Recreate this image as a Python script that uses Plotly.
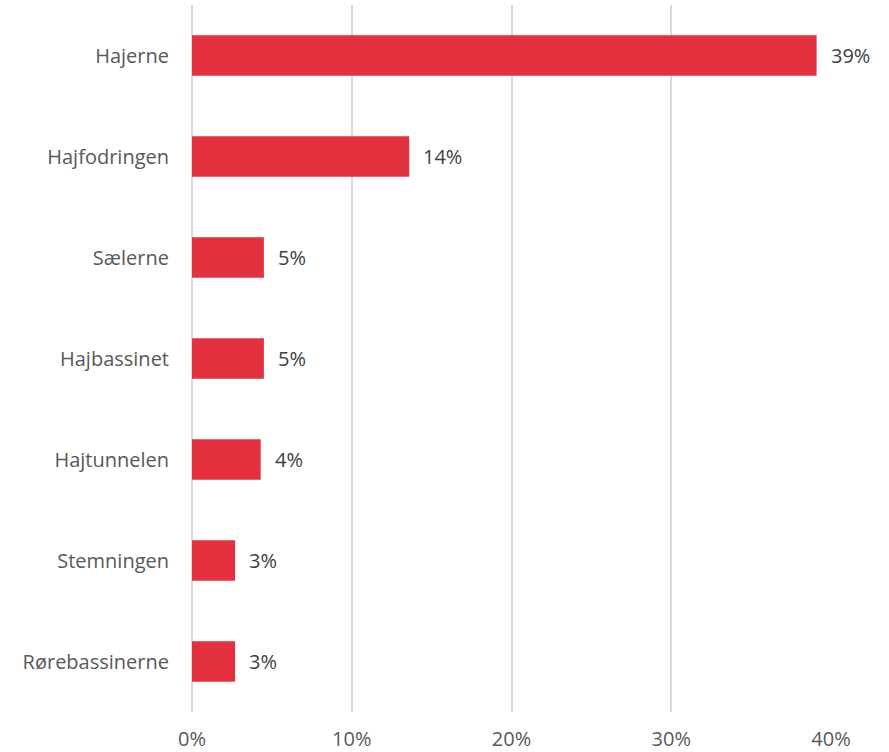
import plotly.graph_objects as go

categories = ["Hajerne", "Hajfodringen", "Sælerne", "Hajbassinet",
              "Hajtunnelen", "Stemningen", "Rørebassinerne"]
values = [0.391, 0.136, 0.045, 0.045, 0.043, 0.027, 0.027]
labels = ["39%", "14%", "5%", "5%", "4%", "3%", "3%"]

text_color = "#595959"
font_family = "Open Sans, Liberation Sans, sans-serif"

fig = go.Figure()
fig.add_bar(
    y=categories,
    x=values,
    orientation="h",
    marker=dict(color="#E3313F", line=dict(width=0)),
    hoverinfo="x+y",
)

# value labels, pushed a bit off the bar end
for cat, val, lab in zip(categories, values, labels):
    fig.add_annotation(
        x=val, y=cat, text=lab, showarrow=False,
        xanchor="left", xshift=12,
        font=dict(size=20, color="#404040", family=font_family),
    )

fig.update_layout(
    width=889,
    height=752,
    margin=dict(l=192, r=58, t=5, b=40, autoexpand=False),
    paper_bgcolor="white",
    plot_bgcolor="white",
    bargap=0.6,
    showlegend=False,
    font=dict(family=font_family, size=20, color=text_color),
)
fig.update_xaxes(
    range=[0, 0.4],
    tickvals=[0, 0.1, 0.2, 0.3, 0.4],
    tickformat=".0%",
    showgrid=True,
    gridcolor="#D9D9D9",
    gridwidth=2,
    zeroline=True,
    zerolinecolor="#D9D9D9",
    zerolinewidth=2,
    showline=False,
    ticks="",
    ticklabelstandoff=13,
    tickfont=dict(size=20, color=text_color),
)
fig.update_yaxes(
    autorange="reversed",
    showgrid=False,
    zeroline=False,
    showline=False,
    ticks="",
    ticklabelstandoff=22,
    tickfont=dict(size=20, color=text_color),
)

fig.write_html("out.html", config={"displayModeBar": False},
               post_script="document.body.style.margin='0px';")
